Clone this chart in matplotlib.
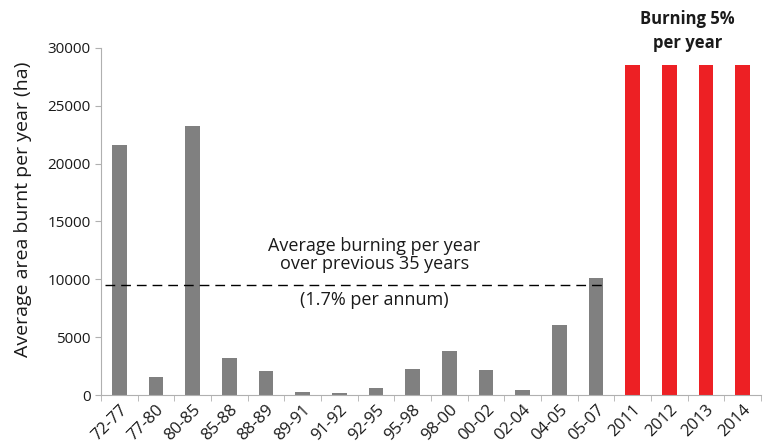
import matplotlib
matplotlib.use("Agg")
import matplotlib.pyplot as plt
import numpy as np

periods = ["72-77", "77-80", "80-85", "85-88", "88-89", "89-91", "91-92", "92-95",
           "95-98", "98-00", "00-02", "02-04", "04-05", "05-07"]
burnt = [21600, 1550, 23250, 3200, 2050, 250, 150, 600,
         2250, 3800, 2150, 450, 6050, 10100]
future_years = ["2011", "2012", "2013", "2014"]
future_burnt = [28500, 28500, 28500, 28500]
avg_burning = 9500

plt.rcParams["font.family"] = ["Open Sans", "DejaVu Sans"]

fig = plt.figure(figsize=(7.69, 4.48), dpi=100)
ax = fig.add_axes([0.1313, 0.1183, 0.8583, 0.7746])

labels = periods + future_years
x = np.arange(len(labels))
ax.bar(x[:len(periods)], burnt, width=0.4, color="#808080")
ax.bar(x[len(periods):], future_burnt, width=0.4, color="#ED2024")

# average line across historical periods
ax.plot([-0.4, len(periods) - 1 + 0.2], [avg_burning, avg_burning],
        color="black", lw=1, dashes=(7, 4.3))

ax.text(6.95, 12100, "Average burning per year\nover previous 35 years",
        ha="center", va="center", fontsize=13, color="#1a1a1a", linespacing=1.05)
ax.text(6.95, 8200, "(1.7% per annum)", ha="center", va="center",
        fontsize=13, color="#1a1a1a")
ax.text(15.5, 31450, "Burning 5%\nper year", ha="center", va="center",
        fontsize=12, fontweight="bold", color="#1a1a1a", linespacing=1.4,
        clip_on=False)

ax.set_xlim(-0.5, len(labels) - 0.5)
ax.set_ylim(0, 30000)
ax.set_yticks(np.arange(0, 30001, 5000))
ax.set_xticks(x)
ax.set_xticklabels(labels, rotation=45, ha="right", rotation_mode="anchor",
                   fontsize=12, color="#1a1a1a")
ax.set_xticks(np.arange(-0.5, len(labels), 1), minor=True)
ax.tick_params(axis="x", which="major", length=0, pad=5)
ax.tick_params(axis="x", which="minor", length=4, color="#b0b0b0")
ax.tick_params(axis="y", length=4, color="#b0b0b0", labelsize=11,
               labelcolor="#1a1a1a")
ax.set_ylabel("Average area burnt per year (ha)", fontsize=14, color="#1a1a1a")
ax.yaxis.set_label_coords(-0.104, 0.536)

for side in ["top", "right"]:
    ax.spines[side].set_visible(False)
for side in ["left", "bottom"]:
    ax.spines[side].set_color("#b0b0b0")

fig.savefig("out.png", dpi=100)
